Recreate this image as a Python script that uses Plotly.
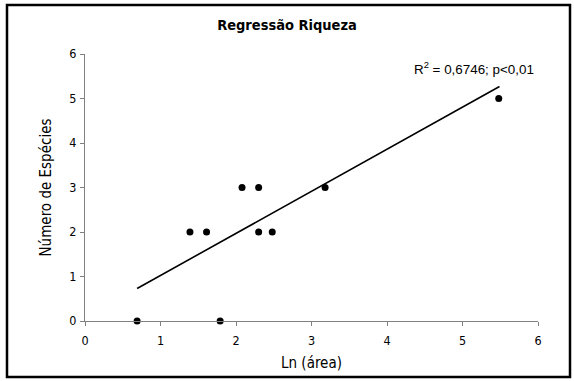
import plotly.graph_objects as go

# Data
ln_area = [0.69, 1.39, 1.61, 1.79, 2.08, 2.30, 2.30, 2.48, 3.18, 5.48]
n_especies = [0, 2, 2, 0, 3, 3, 2, 2, 3, 5]
trend_x = [0.69, 5.49]
trend_y = [0.73, 5.27]
x_ticks = [0, 1, 2, 3, 4, 5, 6]
y_ticks = [0, 1, 2, 3, 4, 5, 6]

W, H = 574, 381
ml, mr, mt, mb = 85, 36, 54, 60
pw, ph = W - ml - mr, H - mt - mb

def px2paper_x(px):
    return (px - ml) / pw

def px2paper_y(py):
    return (H - mb - py) / ph

FAM = "Tahoma, 'DejaVu Sans Condensed', 'DejaVu Sans', sans-serif"
tick_font = dict(family=FAM, size=12.5, color="black")
label_font = dict(family=FAM, size=15, color="black")

fig = go.Figure()
fig.add_trace(go.Scatter(
    x=trend_x, y=trend_y, mode="lines",
    line=dict(color="black", width=1.6), showlegend=False, hoverinfo="skip"))
fig.add_trace(go.Scatter(
    x=ln_area, y=n_especies, mode="markers",
    marker=dict(color="black", size=7), showlegend=False, cliponaxis=False))

axis_common = dict(
    showgrid=False, zeroline=False, showline=True, linecolor="#808080", linewidth=1,
    ticks="outside", ticklen=4, tickcolor="#808080", tickwidth=1,
    tickfont=tick_font, mirror=False)

fig.update_layout(
    width=W, height=H,
    margin=dict(l=ml, r=mr, t=mt, b=mb),
    paper_bgcolor="white", plot_bgcolor="white",
    title=dict(text="<b>Regressão Riqueza</b>", x=0.5, xanchor="center",
               y=1 - 25 / H, yanchor="middle",
               font=dict(family=FAM, size=14.5, color="black")),
    xaxis=dict(range=[0, 6], tickvals=x_ticks, ticktext=[str(v) for v in x_ticks],
               ticklabelstandoff=4,
               title=dict(text="Ln (área)", font=label_font, standoff=10), **axis_common),
    yaxis=dict(range=[0, 6], tickvals=y_ticks, ticktext=[str(v) for v in y_ticks],
               ticklabelstandoff=1,
               title=dict(text="Número de Espécies", font=label_font, standoff=14), **axis_common),
    shapes=[dict(type="rect", xref="paper", yref="paper",
                 x0=px2paper_x(7), x1=px2paper_x(570), y0=px2paper_y(377), y1=px2paper_y(5),
                 line=dict(color="black", width=2.5), fillcolor="rgba(0,0,0,0)", layer="above")],
    annotations=[dict(text="R<sup>2</sup> = 0,6746; p<0,01", xref="paper", yref="paper",
                      x=px2paper_x(536), y=px2paper_y(68), xanchor="right", yanchor="middle",
                      showarrow=False,
                      font=dict(family="'Liberation Sans', Arial, sans-serif", size=13.4, color="black"))],
)

fig.write_html("out.html")
